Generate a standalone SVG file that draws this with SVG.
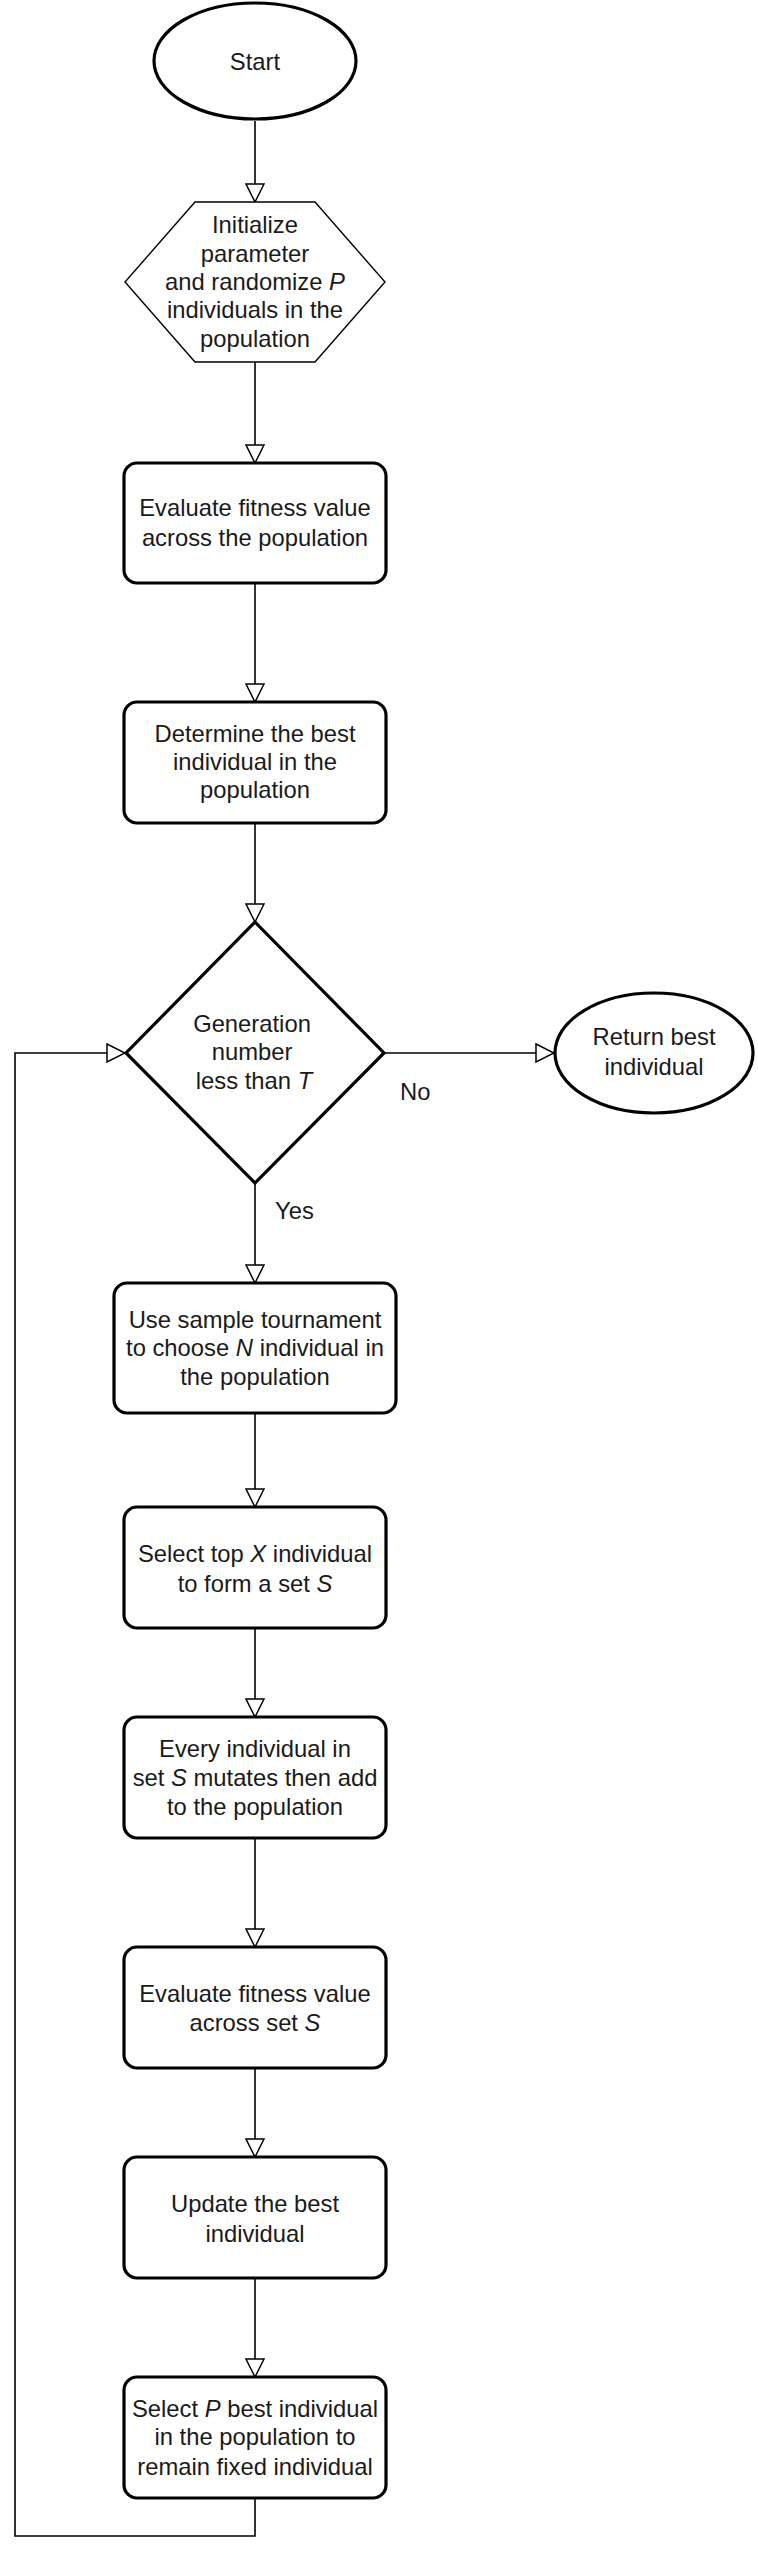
<svg xmlns="http://www.w3.org/2000/svg" width="758" height="2554" viewBox="0 0 758 2554">
<style>
.t{font-family:"Liberation Sans",Arial,sans-serif;font-size:23.8px;fill:#1a1a1a;text-anchor:middle}
.lbl{font-family:"Liberation Sans",Arial,sans-serif;font-size:23.8px;fill:#1a1a1a}
.box{fill:#fff;stroke:#000;stroke-width:3.2}
.thin{fill:#fff;stroke:#000;stroke-width:1.4}
.c{fill:none;stroke:#000;stroke-width:1.6}
</style>
<defs>
<marker id="a" viewBox="0 0 20 20" refX="19" refY="10" markerWidth="20" markerHeight="20" markerUnits="userSpaceOnUse" orient="auto">
<path d="M1,1 L19,10 L1,19 Z" fill="#fff" stroke="#000" stroke-width="1.5"/>
</marker>
</defs>
<rect width="758" height="2554" fill="#fff"/>
<g id="connectors">
<path class="c" d="M255,121 V202" marker-end="url(#a)"/>
<path class="c" d="M255,362 V463" marker-end="url(#a)"/>
<path class="c" d="M255,583 V702" marker-end="url(#a)"/>
<path class="c" d="M255,823 V922" marker-end="url(#a)"/>
<path class="c" d="M384,1053 H554" marker-end="url(#a)"/>
<path class="c" d="M255,1183 V1283" marker-end="url(#a)"/>
<path class="c" d="M255,1413 V1507" marker-end="url(#a)"/>
<path class="c" d="M255,1628 V1717" marker-end="url(#a)"/>
<path class="c" d="M255,1838 V1947" marker-end="url(#a)"/>
<path class="c" d="M255,2068 V2157" marker-end="url(#a)"/>
<path class="c" d="M255,2278 V2377" marker-end="url(#a)"/>
<path class="c" d="M255,2498 V2536 H15 V1053 H125" marker-end="url(#a)"/>
<text class="lbl" x="400" y="1100">No</text>
<text class="lbl" x="275" y="1219">Yes</text>
</g>
<g id="start">
<ellipse class="box" cx="255" cy="61" rx="101" ry="58"/>
<text class="t" x="255" y="70">Start</text>
</g>
<g id="init">
<polygon class="thin" points="195,202 315,202 385,282 315,362 195,362 125,282"/>
<text class="t" x="255" y="233">Initialize</text>
<text class="t" x="255" y="262">parameter</text>
<text class="t" x="255" y="290">and randomize <tspan font-style="italic">P</tspan></text>
<text class="t" x="255" y="318">individuals in the</text>
<text class="t" x="255" y="347">population</text>
</g>
<g id="eval1">
<rect class="box" x="124" y="463" width="262" height="120" rx="13"/>
<text class="t" x="255" y="516">Evaluate fitness value</text>
<text class="t" x="255" y="546">across the population</text>
</g>
<g id="best">
<rect class="box" x="124" y="702" width="262" height="121" rx="13"/>
<text class="t" x="255" y="742">Determine the best</text>
<text class="t" x="255" y="770">individual in the</text>
<text class="t" x="255" y="798">population</text>
</g>
<g id="decision">
<polygon class="box" points="255,922 384,1053 255,1183 126,1053"/>
<text class="t" x="252" y="1032">Generation</text>
<text class="t" x="252" y="1060">number</text>
<text class="t" x="254" y="1089">less than <tspan font-style="italic">T</tspan></text>
</g>
<g id="return">
<ellipse class="box" cx="654" cy="1053" rx="99" ry="60"/>
<text class="t" x="654" y="1045">Return best</text>
<text class="t" x="654" y="1075">individual</text>
</g>
<g id="tournament">
<rect class="box" x="114" y="1283" width="282" height="130" rx="13"/>
<text class="t" x="255" y="1328">Use sample tournament</text>
<text class="t" x="255" y="1356">to choose <tspan font-style="italic">N</tspan> individual in</text>
<text class="t" x="255" y="1385">the population</text>
</g>
<g id="selectx">
<rect class="box" x="124" y="1507" width="262" height="121" rx="13"/>
<text class="t" x="255" y="1562">Select top <tspan font-style="italic">X</tspan> individual</text>
<text class="t" x="255" y="1592">to form a set <tspan font-style="italic">S</tspan></text>
</g>
<g id="mutate">
<rect class="box" x="124" y="1717" width="262" height="121" rx="13"/>
<text class="t" x="255" y="1757">Every individual in</text>
<text class="t" x="255" y="1786">set <tspan font-style="italic">S</tspan> mutates then add</text>
<text class="t" x="255" y="1815">to the population</text>
</g>
<g id="eval2">
<rect class="box" x="124" y="1947" width="262" height="121" rx="13"/>
<text class="t" x="255" y="2002">Evaluate fitness value</text>
<text class="t" x="255" y="2031">across set <tspan font-style="italic">S</tspan></text>
</g>
<g id="update">
<rect class="box" x="124" y="2157" width="262" height="121" rx="13"/>
<text class="t" x="255" y="2212">Update the best</text>
<text class="t" x="255" y="2242">individual</text>
</g>
<g id="selectp">
<rect class="box" x="124" y="2377" width="262" height="121" rx="13"/>
<text class="t" x="255" y="2417">Select <tspan font-style="italic">P</tspan> best individual</text>
<text class="t" x="255" y="2445">in the population to</text>
<text class="t" x="255" y="2475">remain fixed individual</text>
</g>
</svg>
